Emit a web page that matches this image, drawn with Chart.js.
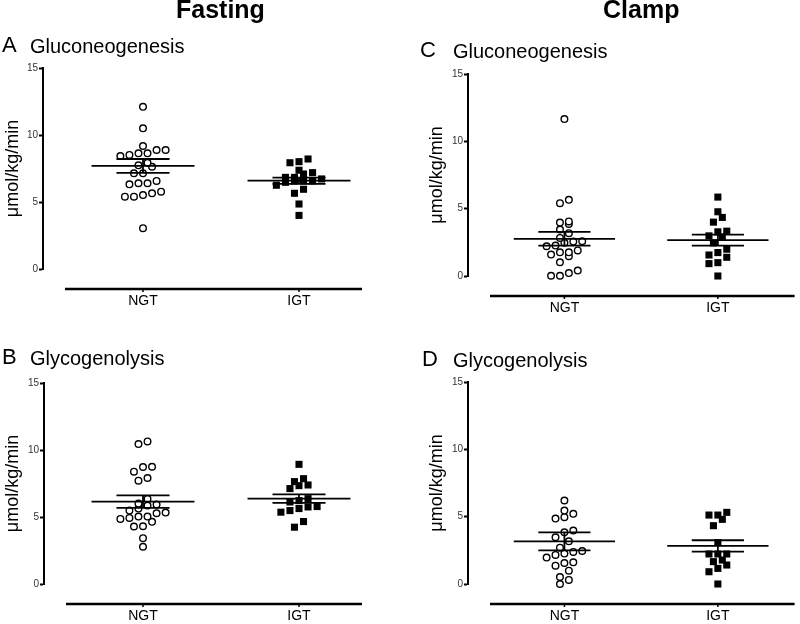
<!DOCTYPE html>
<html>
<head>
<meta charset="utf-8">
<script src="https://cdn.jsdelivr.net/npm/chart.js"></script>
<style>
  body { margin: 0; background: #fff; }
  #page { position: relative; width: 800px; height: 624px; overflow: hidden; font-family: "Liberation Sans", Arial, Helvetica, sans-serif; color: #000; }
  #page canvas { position: absolute; }
  .txt { position: absolute; white-space: nowrap; line-height: 1; }
  .head { font-weight: bold; font-size: 25px; }
  .letter { font-size: 22px; }
  .sub { font-size: 20px; }
</style>
</head>
<body>
<div id="page">
  <canvas id="cA" width="400" height="320" style="left:0;top:0"></canvas>
  <canvas id="cC" width="400" height="330" style="left:400px;top:0"></canvas>
  <canvas id="cB" width="400" height="312" style="left:0;top:312px"></canvas>
  <canvas id="cD" width="400" height="312" style="left:400px;top:312px"></canvas>

  <div class="txt head" style="left:176px;top:-3px">Fasting</div>
  <div class="txt head" style="left:603px;top:-3px">Clamp</div>
  <div class="txt letter" style="left:2px;top:34px">A</div>
  <div class="txt sub" style="left:30px;top:36px">Gluconeogenesis</div>
  <div class="txt letter" style="left:420px;top:39px">C</div>
  <div class="txt sub" style="left:453px;top:41px">Gluconeogenesis</div>
  <div class="txt letter" style="left:2px;top:346px">B</div>
  <div class="txt sub" style="left:30px;top:348px">Glycogenolysis</div>
  <div class="txt letter" style="left:422px;top:348px">D</div>
  <div class="txt sub" style="left:453px;top:350px">Glycogenolysis</div>
</div>

<script>
Chart.defaults.font.family = '"Liberation Sans", Arial, Helvetica, sans-serif';

// groups on the x axis and y ticks
const groups = ["NGT", "IGT"];
const yTicks = [0, 5, 10, 15];
const yLabel = "μmol/kg/min";

// A - fasting gluconeogenesis
const gngFastNGT = [12.1, 10.5, 9.18, 8.88, 8.88, 8.63, 8.63, 8.51, 8.43, 7.93, 7.74, 7.63, 7.14, 7.14, 6.57, 6.4, 6.4, 6.32, 5.77, 5.65, 5.52, 5.4, 5.4, 3.05];
const gngFastIGT = [8.21, 8.01, 7.93, 7.37, 7.19, 7.09, 6.84, 6.84, 6.72, 6.57, 6.57, 6.57, 6.47, 6.25, 5.95, 5.65, 4.85, 4.0];
const gngFastMean = [7.69, 6.59];
const gngFastSem = [0.52, 0.23];

// B - fasting glycogenolysis
const glyFastNGT = [10.64, 10.44, 8.75, 8.73, 8.38, 7.91, 7.71, 6.35, 6.0, 5.93, 5.85, 5.63, 5.48, 5.33, 5.28, 5.03, 5.03, 4.93, 4.86, 4.64, 4.31, 4.29, 3.42, 2.78];
const glyFastIGT = [8.93, 7.86, 7.64, 7.39, 7.34, 7.12, 6.37, 6.22, 6.12, 5.78, 5.75, 5.63, 5.48, 5.36, 4.66, 4.24];
const glyFastMean = [6.15, 6.37];
const glyFastSem = [0.47, 0.32];

// C - clamp gluconeogenesis
const gngClampNGT = [11.65, 5.66, 5.41, 4.05, 3.97, 3.87, 3.45, 3.18, 2.83, 2.58, 2.56, 2.46, 2.26, 2.21, 1.9, 1.76, 1.76, 1.59, 1.47, 1.02, 0.4, 0.22, 0.02, 0.02];
const gngClampIGT = [5.86, 4.77, 4.35, 4.0, 3.33, 3.28, 2.98, 2.9, 2.46, 1.99, 1.74, 1.56, 1.39, 0.99, 0.92, 0.0];
const gngClampMean = [2.76, 2.66];
const gngClampSem = [0.51, 0.41];

// D - clamp glycogenolysis
const glyClampNGT = [6.2, 5.45, 5.21, 4.96, 4.86, 3.97, 3.84, 3.47, 3.17, 2.7, 2.45, 2.38, 2.26, 2.16, 1.96, 1.61, 1.56, 1.36, 0.99, 0.52, 0.3, 0.0];
const glyClampIGT = [5.32, 5.12, 5.12, 4.8, 4.33, 3.07, 2.23, 2.23, 2.23, 1.78, 1.66, 1.41, 1.16, 0.91, 0.0];
const glyClampMean = [3.17, 2.83];
const glyClampSem = [0.67, 0.42];

// column scatter: values close in y go in one row, centred on the group
const STEP = 0.058, ROW = 0.5;
function swarm(values, center) {
  const sorted = [...values].sort((a, b) => a - b);
  const pts = [];
  let row = [];
  const flush = () => {
    row.forEach((v, k) => pts.push({ x: center + (k - (row.length - 1) / 2) * STEP, y: v }));
    row = [];
  };
  sorted.forEach(v => {
    if (row.length && v - row[0] > ROW) flush();
    row.push(v);
  });
  flush();
  return pts;
}

function seg(x1, y1, x2, y2) {
  return { data: [{ x: x1, y: y1 }, { x: x2, y: y2 }], showLine: true, pointRadius: 0,
           borderColor: "#000", borderWidth: 1.8, order: 0, clip: false };
}

// bottom axis line sits below zero, GraphPad style
const axisLine = {
  id: "axisLine",
  afterDraw(chart, args, opts) {
    const { ctx, chartArea, scales: { x } } = chart;
    const y = chartArea.bottom + opts.gap;
    ctx.save();
    ctx.strokeStyle = "#000";
    ctx.lineWidth = 2.5;
    ctx.beginPath();
    ctx.moveTo(chartArea.left + opts.inset, y);
    ctx.lineTo(chartArea.right, y);
    ctx.stroke();
    ctx.lineWidth = 1.5;
    ctx.beginPath();
    x.ticks.forEach(t => {
      const px = x.getPixelForValue(t.value);
      ctx.moveTo(px, y);
      ctx.lineTo(px, y + 3);
    });
    ctx.stroke();
    ctx.restore();
  }
};

function panel(id, ngt, igt, mean, sem, L) {
  const ppu = L.igtX - L.ngtX;
  const lines = [];
  mean.forEach((m, i) => {
    const c = i + 1;
    lines.push(seg(c - 0.33, m, c + 0.33, m));
    lines.push(seg(c - 0.17, m + sem[i], c + 0.17, m + sem[i]));
    lines.push(seg(c - 0.17, m - sem[i], c + 0.17, m - sem[i]));
    lines.push(seg(c, m - sem[i], c, m + sem[i]));
  });
  new Chart(document.getElementById(id), {
    type: "scatter",
    data: {
      datasets: lines.concat([
        { data: swarm(ngt, 1), pointStyle: "circle", pointRadius: 3.3, borderWidth: 1.4,
          borderColor: "#000", backgroundColor: "#fff", order: 1, clip: false },
        { data: swarm(igt, 2), pointStyle: "rect", pointRadius: 5, borderWidth: 0,
          borderColor: "#000", backgroundColor: "#000", order: 1, clip: false }
      ])
    },
    options: {
      responsive: false,
      animation: false,
      events: [],
      layout: { padding: { left: L.titleX - L.canvasLeft - 12.8, top: L.y15 - L.canvasTop, right: L.canvasLeft + 400 - L.right, bottom: 0 } },
      plugins: { legend: { display: false }, tooltip: { enabled: false }, axisLine: { gap: 20, inset: 22 } },
      scales: {
        x: {
          type: "linear",
          min: 1 - (L.ngtX - L.axisX) / ppu,
          max: 2 + (L.right - L.igtX) / ppu,
          grid: { display: false },
          border: { display: false },
          afterBuildTicks: s => { s.ticks = groups.map((g, i) => ({ value: i + 1 })); },
          ticks: { callback: v => groups[v - 1], padding: 16, color: "#000", font: { size: 14 }, maxRotation: 0, autoSkip: false },
          afterFit: s => { s.height = L.canvasTop + L.h - L.y0; }
        },
        y: {
          min: 0, max: 15,
          afterBuildTicks: s => { s.ticks = yTicks.map(v => ({ value: v })); },
          grid: { drawOnChartArea: false, tickLength: 4, tickWidth: 2, color: "#000" },
          border: { display: true, color: "#000", width: 2 },
          ticks: { color: "#333", font: { size: 10 }, padding: 1 },
          title: { display: true, text: yLabel, color: "#000", font: { size: 18 }, padding: { top: 2, bottom: 0 } },
          afterFit: s => { s.width = L.axisX - L.titleX + 12.8; }
        }
      }
    },
    plugins: [axisLine]
  });
}

panel("cA", gngFastNGT, gngFastIGT, gngFastMean, gngFastSem,
  { canvasLeft: 0, canvasTop: 0, h: 320, axisX: 43, y15: 68, y0: 269, right: 362, ngtX: 143, igtX: 299, titleX: 13 });
panel("cC", gngClampNGT, gngClampIGT, gngClampMean, gngClampSem,
  { canvasLeft: 400, canvasTop: 0, h: 330, axisX: 468, y15: 74, y0: 276, right: 800, ngtX: 566, igtX: 722, titleX: 437 });
panel("cB", glyFastNGT, glyFastIGT, glyFastMean, glyFastSem,
  { canvasLeft: 0, canvasTop: 312, h: 312, axisX: 44, y15: 383, y0: 584, right: 362, ngtX: 143, igtX: 299, titleX: 13 });
panel("cD", glyClampNGT, glyClampIGT, glyClampMean, glyClampSem,
  { canvasLeft: 400, canvasTop: 312, h: 312, axisX: 468, y15: 382, y0: 584, right: 800, ngtX: 566, igtX: 722, titleX: 437 });
</script>
</body>
</html>
